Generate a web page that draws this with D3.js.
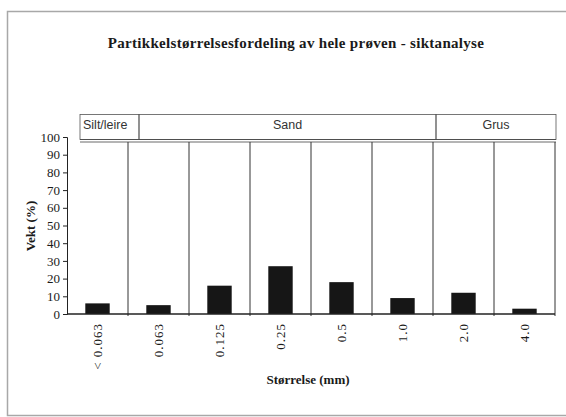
<!DOCTYPE html>
<html>
<head>
<meta charset="utf-8">
<script src="https://cdn.jsdelivr.net/npm/d3@7/dist/d3.min.js"></script>
<style>
  body { margin: 0; background: #fff; }
  svg { display: block; }
</style>
</head>
<body>
<svg id="chart" width="566" height="417"></svg>
<script>
// sieve fractions (mm) and weight percent
const categories = ["< 0.063", "0.063", "0.125", "0.25", "0.5", "1.0", "2.0", "4.0"];
const weights = [6, 5, 16, 27, 18, 9, 12, 3];
const yTicks = [0, 10, 20, 30, 40, 50, 60, 70, 80, 90, 100];
// header table: soil class and how many sieve columns it covers
const groups = ["Silt/leire", "Sand", "Grus"];
const groupSpans = [1, 5, 2];

const title = "Partikkelstørrelsesfordeling av hele prøven - siktanalyse";
const xTitle = "Størrelse (mm)";
const yTitle = "Vekt (%)";

const plotLeft = 67, plotRight = 555, plotTop = 137, plotBottom = 314;
const serif = "'Liberation Serif', 'Times New Roman', serif";
const sans = "'Liberation Sans', Arial, sans-serif";
const ink = "#1a1a1a";

let svg = d3.select("#chart");

// outer frame
svg.append("rect")
    .attr("x", 7.5).attr("y", 11.5)
    .attr("width", 570).attr("height", 404)
    .attr("fill", "none")
    .attr("stroke", "#a8a8a8")
    .attr("stroke-width", 1.5);

let xScale = d3.scaleBand()
    .domain(categories)
    .range([plotLeft, plotRight]);

let yScale = d3.scaleLinear()
    .domain([0, 100])
    .range([plotBottom, plotTop]);

// title
svg.append("text")
    .attr("x", 296).attr("y", 48)
    .attr("text-anchor", "middle")
    .style("font-family", serif)
    .style("font-weight", "bold")
    .style("font-size", "15px")
    .style("letter-spacing", "0.3px")
    .style("fill", ink)
    .text(title);

// header table above plot
let colStart = [0];
groupSpans.forEach(function(s, i) { colStart.push(colStart[i] + s); });
let edgeX = function(k) {
    // scanned table sits a little right of the column boundaries
    if (k === 0) return plotLeft + 13;
    if (k === categories.length) return plotRight + 1;
    return plotLeft + k * xScale.bandwidth() + (k === 1 ? 11 : 3);
};
let header = svg.append("g");
groups.forEach(function(g, i) {
    let x0 = edgeX(colStart[i]);
    let x1 = edgeX(colStart[i + 1]);
    header.append("rect")
        .attr("x", x0).attr("y", 114.5)
        .attr("width", x1 - x0).attr("height", 25)
        .attr("fill", "none")
        .attr("stroke", "#555")
        .attr("stroke-width", 0.8);
    header.append("text")
        .attr("x", i === 0 ? x0 + 3 : (x0 + x1) / 2)
        .attr("y", 129)
        .attr("text-anchor", i === 0 ? "start" : "middle")
        .style("font-family", sans)
        .style("font-size", "12.5px")
        .style("fill", "#333")
        .text(g);
});
// double rule under the table
[139.5, 142].forEach(function(yy) {
    header.append("line")
        .attr("x1", plotLeft + 13).attr("x2", plotRight + 1)
        .attr("y1", yy).attr("y2", yy)
        .attr("stroke", "#444")
        .attr("stroke-width", 0.8);
});

// vertical separators between size classes
let bounds = categories.map(function(c) { return xScale(c) + xScale.bandwidth(); });
svg.append("g").selectAll("line")
    .data(bounds)
    .join("line")
    .attr("x1", function(d) { return d; })
    .attr("x2", function(d) { return d; })
    .attr("y1", 142)
    .attr("y2", yScale(0) + 2)
    .attr("stroke", "#333")
    .attr("stroke-width", 1);

// bars
svg.append("g").selectAll("rect")
    .data(categories)
    .join("rect")
    .attr("x", function(d) { return xScale(d) + xScale.bandwidth() * 0.3; })
    .attr("width", xScale.bandwidth() * 0.4)
    .attr("y", function(d, i) { return yScale(weights[i]); })
    .attr("height", function(d, i) { return yScale(0) - yScale(weights[i]); })
    .attr("fill", "#161616");

// x baseline
svg.append("line")
    .attr("x1", plotLeft).attr("x2", plotRight)
    .attr("y1", yScale(0)).attr("y2", yScale(0))
    .attr("stroke", "#222")
    .attr("stroke-width", 1.5);

// y axis
let yAxis = svg.append("g")
    .attr("transform", "translate(" + plotLeft + ",0)")
    .call(d3.axisLeft(yScale).tickValues(yTicks).tickSize(4).tickPadding(3));
yAxis.select("path").attr("stroke", "#222");
yAxis.selectAll("line").attr("stroke", "#222");
yAxis.selectAll("text")
    .style("font-family", serif)
    .style("font-size", "13px")
    .style("fill", ink);

// x tick labels, rotated
svg.append("g").selectAll("text")
    .data(categories)
    .join("text")
    .attr("transform", function(d) {
        return "translate(" + (xScale(d) + xScale.bandwidth() / 2 + 4) + "," + 323 + ") rotate(-90)";
    })
    .attr("text-anchor", "end")
    .style("font-family", serif)
    .style("font-size", "13px")
    .style("letter-spacing", "1px")
    .style("fill", ink)
    .text(function(d) { return d; });

// axis titles
svg.append("text")
    .attr("x", 308).attr("y", 384)
    .attr("text-anchor", "middle")
    .style("font-family", serif)
    .style("font-weight", "bold")
    .style("font-size", "13px")
    .style("fill", ink)
    .text(xTitle);

svg.append("text")
    .attr("transform", "translate(35,226) rotate(-90)")
    .attr("text-anchor", "middle")
    .style("font-family", serif)
    .style("font-weight", "bold")
    .style("font-size", "13px")
    .style("fill", ink)
    .text(yTitle);
</script>
</body>
</html>
